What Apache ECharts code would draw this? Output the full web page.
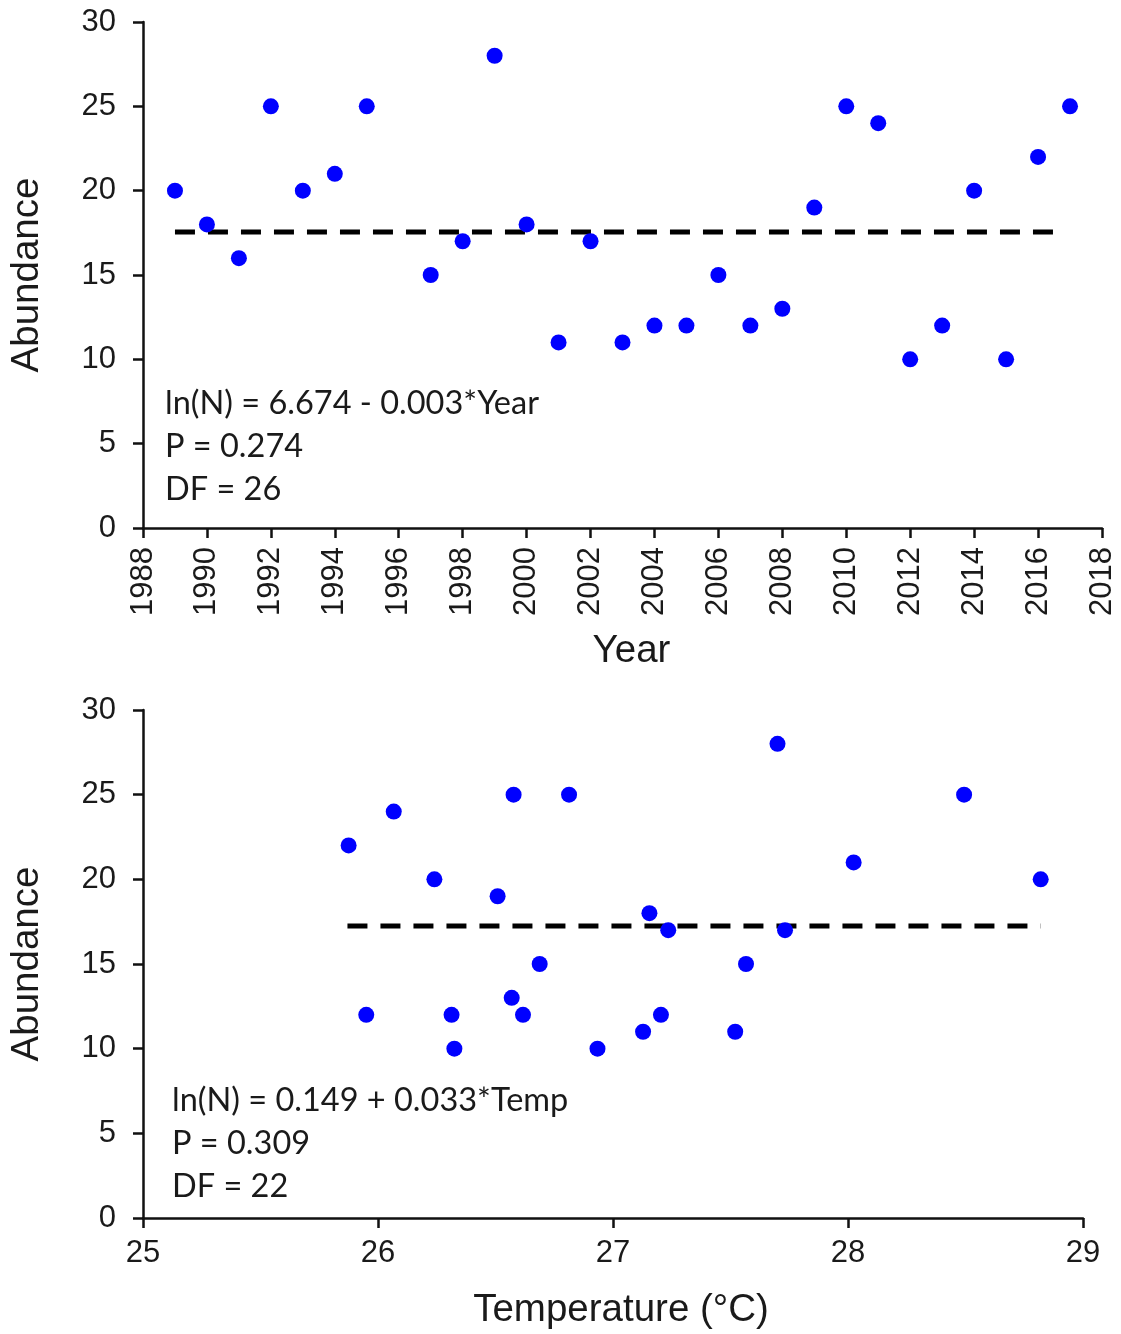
<!DOCTYPE html>
<html>
<head>
<meta charset="utf-8">
<script src="https://cdn.jsdelivr.net/npm/echarts@6/dist/echarts.min.js"></script>
<style>
  html, body { margin: 0; padding: 0; background: #fff; }
  #chart { width: 1121px; height: 1334px; }
</style>
</head>
<body>
<div id="chart"></div>
<script>
// ---- Data ----
const years = [1989, 1990, 1991, 1992, 1993, 1994, 1995, 1997, 1998, 1999, 2000, 2001, 2002, 2003,
               2004, 2005, 2006, 2007, 2008, 2009, 2010, 2011, 2012, 2013, 2014, 2015, 2016, 2017];
const abundanceByYear = [20, 18, 16, 25, 20, 21, 25, 15, 17, 28, 18, 11, 17, 11,
                         12, 12, 15, 12, 13, 19, 25, 24, 10, 12, 20, 10, 22, 25];
const yearFitX = [1989, 2016.8];
const yearFitY = [17.55, 17.55];

const temps = [25.875, 26.067, 26.577, 26.813, 26.24, 26.509, 26.688, 26.569, 25.95, 26.313, 26.617, 26.325,
               26.934, 27.70, 28.494, 28.024, 28.82, 27.155, 27.235, 27.732, 27.566, 27.204, 27.128, 27.52];
const abundanceByTemp = [22, 24, 25, 25, 20, 19, 15, 13, 12, 12, 12, 10,
                         10, 28, 25, 21, 20, 18, 17, 17, 15, 12, 11, 11];
const tempFitX = [25.87, 28.82];
const tempFitY = [17.25, 17.25];

const yTicks = { min: 0, max: 30, interval: 5 };
const yearTicks = { min: 1988, max: 2018, interval: 2 };
const tempTicks = { min: 25, max: 29, interval: 1 };

const topText = ['ln(N) = 6.674 - 0.003*Year', 'P = 0.274', 'DF = 26'];
const bottomText = ['ln(N) = 0.149 + 0.033*Temp', 'P = 0.309', 'DF = 22'];

// ---- Chart ----
const pairs = (xs, ys) => xs.map((x, i) => [x, ys[i]]);
const labelFont = { fontFamily: 'Liberation Sans', fontSize: 31, color: '#1a1a1a' };
const nameFont = { fontFamily: 'Liberation Sans', fontSize: 38.5, color: '#1a1a1a' };
const axisLine = { show: true, onZero: false, lineStyle: { color: '#111', width: 2.5 } };
const axisTick = { show: true, inside: false, length: 10, lineStyle: { color: '#111', width: 2.5 } };

const chart = echarts.init(document.getElementById('chart'), null, { renderer: 'canvas' });
chart.setOption({
  animation: false,
  backgroundColor: '#ffffff',
  grid: [
    { left: 142, right: 19, top: 22, height: 506 },
    { left: 142, right: 38, top: 710, height: 508 }
  ],
  xAxis: [
    {
      gridIndex: 0, type: 'value', min: yearTicks.min, max: yearTicks.max, interval: yearTicks.interval,
      axisLine, axisTick, splitLine: { show: false },
      axisLabel: Object.assign({ rotate: 90, margin: 19, formatter: v => String(v) }, labelFont),
      name: 'Year', nameLocation: 'middle', nameGap: 104,
      nameTextStyle: Object.assign({ padding: [0, 0, 0, 18] }, nameFont)
    },
    {
      gridIndex: 1, type: 'value', min: tempTicks.min, max: tempTicks.max, interval: tempTicks.interval,
      axisLine, axisTick, splitLine: { show: false },
      axisLabel: Object.assign({ margin: 20, formatter: v => String(v) }, labelFont),
      name: 'Temperature (°C)', nameLocation: 'middle', nameGap: 73,
      nameTextStyle: Object.assign({ padding: [0, 0, 0, 16] }, nameFont)
    }
  ],
  yAxis: [0, 1].map(i => ({
    gridIndex: i, type: 'value', min: yTicks.min, max: yTicks.max, interval: yTicks.interval,
    axisLine, axisTick, splitLine: { show: false },
    axisLabel: Object.assign({ margin: 27, formatter: v => String(v) }, labelFont),
    name: 'Abundance', nameLocation: 'middle', nameGap: 96,
    nameTextStyle: nameFont
  })),
  series: [
    {
      type: 'line', xAxisIndex: 0, yAxisIndex: 0, data: pairs(yearFitX, yearFitY),
      symbol: 'none', lineStyle: { color: '#000', width: 5, type: [20, 13] }, z: 1
    },
    {
      type: 'scatter', xAxisIndex: 0, yAxisIndex: 0, data: pairs(years, abundanceByYear),
      symbol: 'circle', symbolSize: 16, itemStyle: { color: '#0000ff', opacity: 1 }, z: 2
    },
    {
      type: 'line', xAxisIndex: 1, yAxisIndex: 1, data: pairs(tempFitX, tempFitY),
      symbol: 'none', lineStyle: { color: '#000', width: 5, type: [20, 13] }, z: 1
    },
    {
      type: 'scatter', xAxisIndex: 1, yAxisIndex: 1, data: pairs(temps, abundanceByTemp),
      symbol: 'circle', symbolSize: 16, itemStyle: { color: '#0000ff', opacity: 1 }, z: 2
    }
  ],
  graphic: [
    {
      type: 'text', left: 165, top: 382,
      style: { text: topText.join('\n'), font: '32.5px Lato', lineHeight: 43, fill: '#1a1a1a' }
    },
    {
      type: 'text', left: 172, top: 1079,
      style: { text: bottomText.join('\n'), font: '32.5px Lato', lineHeight: 43, fill: '#1a1a1a' }
    }
  ]
});
</script>
</body>
</html>
